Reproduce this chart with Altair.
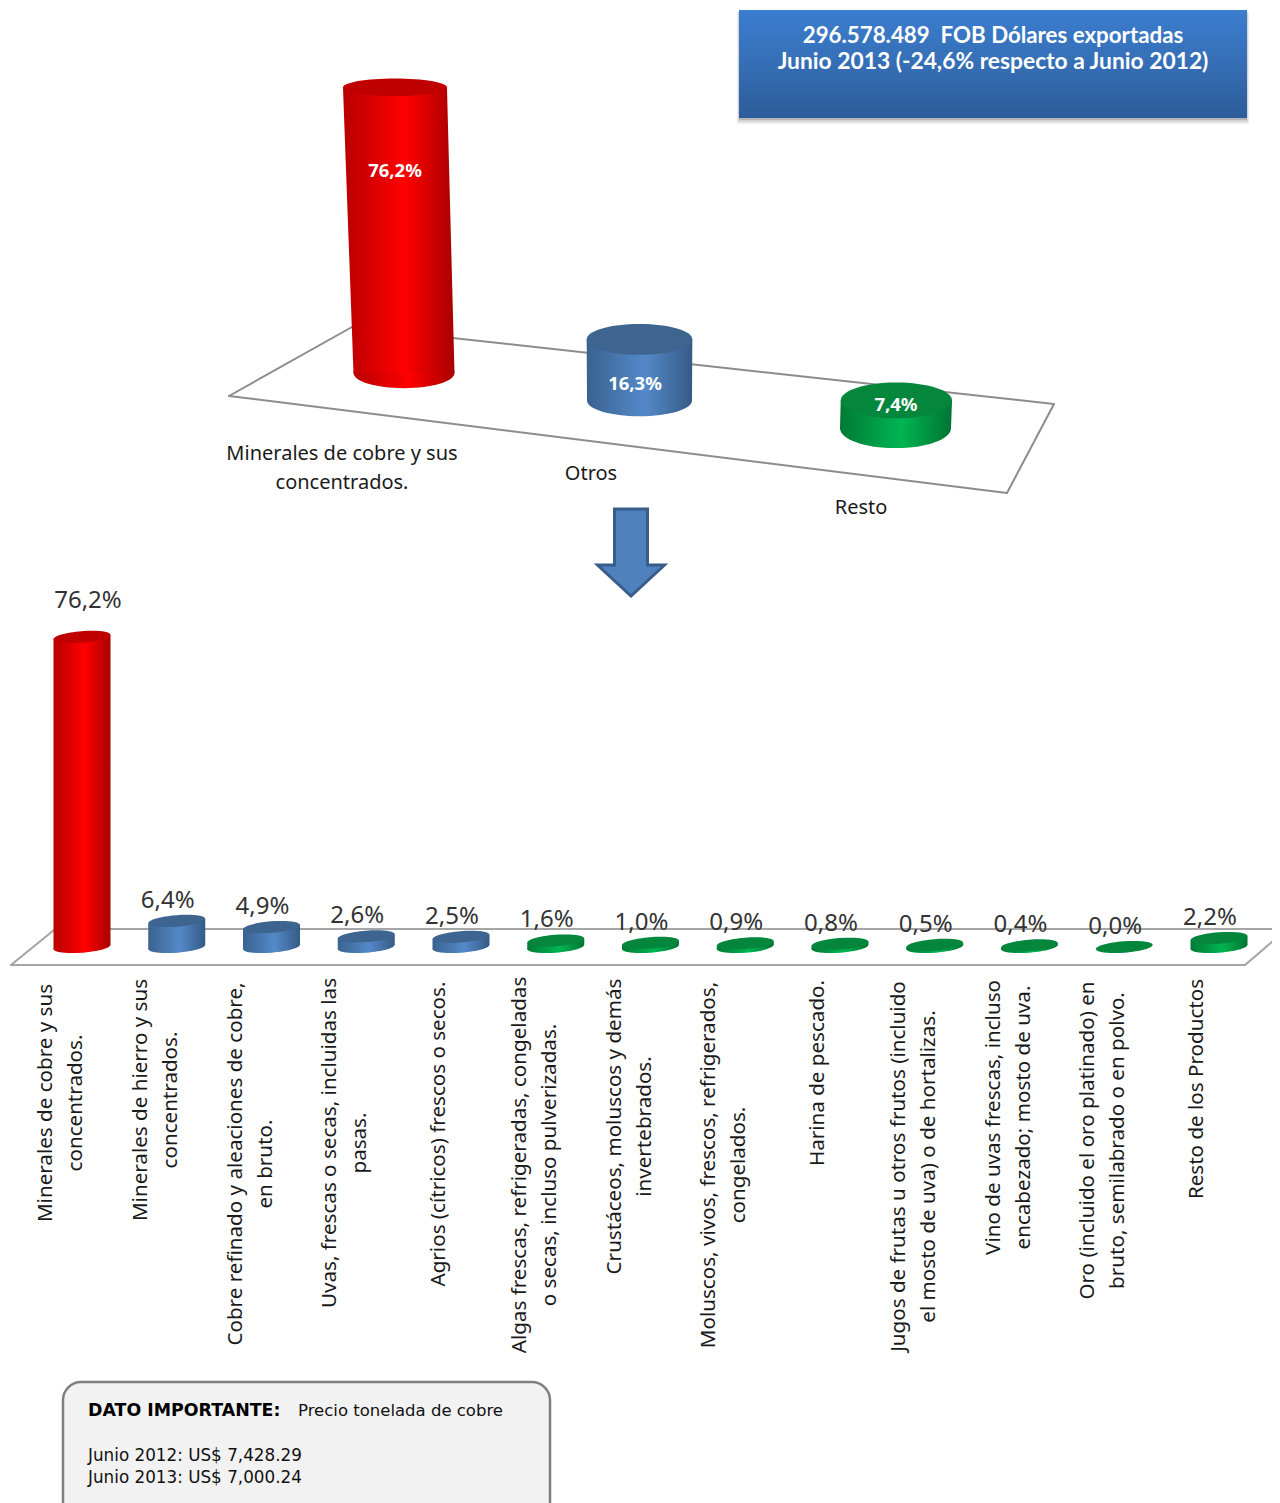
import altair as alt
import pandas as pd

# ---------- data ----------
top_categories = ["Minerales de cobre y sus\nconcentrados.", "Otros", "Resto"]
top_values = [76.2, 16.3, 7.4]
top_labels = ["76,2%", "16,3%", "7,4%"]
bottom_categories = [
    "Minerales de cobre y sus\nconcentrados.",
    "Minerales de hierro y sus\nconcentrados.",
    "Cobre refinado y aleaciones de cobre,\nen bruto.",
    "Uvas, frescas o secas, incluidas las\npasas.",
    "Agrios (cítricos) frescos o secos.",
    "Algas frescas, refrigeradas, congeladas\no secas, incluso pulverizadas.",
    "Crustáceos, moluscos y demás\ninvertebrados.",
    "Moluscos, vivos, frescos, refrigerados,\ncongelados.",
    "Harina de pescado.",
    "Jugos de frutas u otros frutos (incluido\nel mosto de uva) o de hortalizas.",
    "Vino de uvas frescas, incluso\nencabezado; mosto de uva.",
    "Oro (incluido el oro platinado) en\nbruto, semilabrado o en polvo.",
    "Resto de los Productos",
]
bottom_values = [76.2, 6.4, 4.9, 2.6, 2.5, 1.6, 1.0, 0.9, 0.8, 0.5, 0.4, 0.0, 2.2]
bottom_labels = ["76,2%", "6,4%", "4,9%", "2,6%", "2,5%", "1,6%", "1,0%", "0,9%",
                 "0,8%", "0,5%", "0,4%", "0,0%", "2,2%"]
bottom_groups = ["r", "b", "b", "b", "b", "g", "g", "g", "g", "g", "g", "g", "g"]
top_groups = ["r", "b", "g"]
banner_lines = ["296.578.489\u00a0 FOB Dólares exportadas",
                "Junio 2013 (-24,6% respecto a Junio 2012)"]
note_head = "DATO IMPORTANTE:"
note_sub = "Precio tonelada de cobre"
note_lines = ["Junio 2012: US$ 7,428.29", "Junio 2013: US$ 7,000.24"]

# ---------- styling ----------
SANS = "Noto Sans"
BANNER = "Lato"
NOTE = "DejaVu Sans"
TOP_H, W, BOT_H = 572, 1264, 923   # panel sizes
OFF = 8
LABEL_MID = [1103, 1100, 1164, 1143, 1134, 1165, 1126.5, 1165, 1073, 1166.5, 1117.5, 1140.5, 1089]


def grad(edge_l, mid, edge_r):
    return alt.Gradient(gradient="linear", x1=0, x2=1, y1=0, y2=0, stops=[
        alt.GradientStop(offset=0, color=edge_l),
        alt.GradientStop(offset=0.55, color=mid),
        alt.GradientStop(offset=1, color=edge_r)])


BODY = {"r": grad("#b80000", "#ff0000", "#a80000"),
        "b": grad("#3a628f", "#5489c9", "#365a86"),
        "g": grad("#007a35", "#00b552", "#007433")}
CAP = {"r": "#c00000", "b": "#3e6490", "g": "#04873d"}


def ellipse(r):
    k = 0.5523
    a, b = k * r, r
    return (f"M-1,0C-1,{-a:.4f} {-k},{-b:.4f} 0,{-b:.4f}C{k},{-b:.4f} 1,{-a:.4f} 1,0"
            f"C1,{a:.4f} {k},{b:.4f} 0,{b:.4f}C{-k},{b:.4f} -1,{a:.4f} -1,0Z")


one = pd.DataFrame({"a": [0]})


def rule(x0, y0, x1, y1, color, w=2, y_off=0):
    return alt.Chart(one).mark_rule(color=color, strokeWidth=w, strokeCap="round", clip=True).encode(
        x=alt.value(x0 - OFF), y=alt.value(y0 - y_off), x2=alt.value(x1 - OFF), y2=alt.value(y1 - y_off))


def text(s, x, y, y_off=0, **kw):
    return alt.Chart(pd.DataFrame({"t": [s]})).mark_text(**kw).encode(
        text="t:N", x=alt.value(x - OFF), y=alt.value(y - y_off))


# ---------- top panel ----------
TOP_PX = 3.75           # pixels per percentage point
BASE_Y = 373 - OFF
top_x = alt.Scale(domain=[0, W], range=[0, W])
top_y = alt.Scale(domain=[-(TOP_H - BASE_Y) / TOP_PX, BASE_Y / TOP_PX], range=[TOP_H, 0])
X_T = dict(scale=top_x, axis=None, title=None)
Y_T = dict(scale=top_y, axis=None, title=None)

top_layers = [
    rule(229, 396, 1007, 493, "#8c8c8c", 2, OFF),
    rule(1007, 493, 1054, 404, "#8c8c8c", 2, OFF),
    rule(1054, 404, 352, 327, "#8c8c8c", 2, OFF),
    rule(352, 327, 229, 396, "#8c8c8c", 2, OFF),
]

base_w = [101, 105, 111]
cap_ratio = [0.17, 0.29, 0.32]
base_ratio = [0.30, 0.30, 0.36]
for i, (c, v, g) in enumerate(zip(top_categories, top_values, top_groups)):
    cx = 396 + 235.5 * i + 10.25 * i * (i - 1)
    drop = 7.35 * i
    slant = 0.0316 * (1 - i) * TOP_PX
    w_top = base_w[i] + 3 * v / 76.2
    rows = pd.DataFrame({
        "y": [-drop, v - drop],
        "xl": [cx - base_w[i] / 2, cx - slant * v - w_top / 2],
        "xr": [cx + base_w[i] / 2, cx - slant * v + w_top / 2],
    })
    base = pd.DataFrame({"x": [cx], "y": [-drop]})
    head = pd.DataFrame({"x": [cx - slant * v], "y": [v - drop]})
    top_layers += [
        alt.Chart(base).mark_point(shape=ellipse(base_ratio[i]), filled=True, fill=BODY[g], opacity=1,
                                   size=base_w[i] ** 2, strokeWidth=0).encode(
            x=alt.X("x:Q", **X_T), y=alt.Y("y:Q", **Y_T)),
        alt.Chart(rows).mark_area(orient="horizontal", fill=BODY[g], opacity=1).encode(
            x=alt.X("xl:Q", **X_T), x2="xr:Q", y=alt.Y("y:Q", **Y_T)),
        alt.Chart(head).mark_point(shape=ellipse(cap_ratio[i]), filled=True, fill=CAP[g], opacity=1,
                                   size=w_top ** 2, strokeWidth=0).encode(
            x=alt.X("x:Q", **X_T), y=alt.Y("y:Q", **Y_T)),
    ]

for s, x, y in zip(top_labels, [395, 635, 896], [171, 384, 405]):
    top_layers.append(text(s, x, y, OFF, font=SANS, fontSize=18.5, fontWeight="bold", color="white"))

top_layers += [
    text(top_categories[0], 342, 454, OFF, font=SANS, fontSize=20, lineBreak="\n", lineHeight=29,
         color="#1a1a1a"),
    text(top_categories[1], 591, 474, OFF, font=SANS, fontSize=20, color="#1a1a1a"),
    text(top_categories[2], 861, 508, OFF, font=SANS, fontSize=20, color="#1a1a1a"),
]

# banner
for dx, dy, op in [(2, 6, 0.07), (1, 4, 0.10), (0, 2, 0.14)]:
    top_layers.append(alt.Chart(one).mark_rect(fill="#000000", opacity=op).encode(
        x=alt.value(739 - dx - OFF), x2=alt.value(1247 + dx - OFF),
        y=alt.value(12 - OFF), y2=alt.value(118 + dy - OFF)))
top_layers.append(alt.Chart(one).mark_rect(
    fill=alt.Gradient(gradient="linear", x1=0, x2=0, y1=0, y2=1, stops=[
        alt.GradientStop(offset=0, color="#3b7dcf"),
        alt.GradientStop(offset=0.45, color="#3670b8"),
        alt.GradientStop(offset=1, color="#2d5c9a")])).encode(
    x=alt.value(739 - OFF), x2=alt.value(1247 - OFF), y=alt.value(10 - OFF), y2=alt.value(118 - OFF)))
top_layers += [
    text(banner_lines[0], 993, 36, OFF, font=BANNER, fontSize=22.3, fontWeight="bold", color="white"),
    text(banner_lines[1], 993, 62, OFF, font=BANNER, fontSize=22.8, fontWeight="bold", color="white"),
]

# arrow (pixel path about its own centre, size 4 = unit scale)
arrow = "M-16.5,-44 L16.5,-44 L16.5,12 L33.5,12 L0,43 L-33.5,12 L-16.5,12 Z"
top_layers.append(alt.Chart(one).mark_point(shape=arrow, filled=True, fill="#4f81bd", opacity=1,
                                            stroke="#385d8a", strokeWidth=3, size=4).encode(
    x=alt.value(631 - OFF), y=alt.value(553 - OFF)))

top = alt.layer(*top_layers).properties(width=W, height=TOP_H)

# ---------- bottom panel ----------
SPLIT = TOP_H + OFF            # screen y where the bottom panel starts
BOT_PX = 4.07
FLOOR_Y = 947 - SPLIT
STEP = 94.75
bot_x = alt.Scale(domain=[-(82 - OFF) / STEP, (W - 82 + OFF) / STEP], range=[0, W])
bot_y = alt.Scale(domain=[-(BOT_H - FLOOR_Y) / BOT_PX, FLOOR_Y / BOT_PX], range=[BOT_H, 0])
X_B = dict(scale=bot_x, axis=None, title=None)
Y_B = dict(scale=bot_y, axis=None, title=None)

bot_layers = [
    rule(110, 929, 1280, 929, "#a6a6a6", 2.2, SPLIT),
    rule(11, 965, 1245, 965, "#a6a6a6", 2.2, SPLIT),
    rule(11, 965, 54, 930, "#a6a6a6", 2.2, SPLIT),
    rule(1245, 965, 1280, 935, "#a6a6a6", 2.2, SPLIT),
]

hw = 28.5 / STEP
tilt = 2.2 / BOT_PX
for i, (c, v, g, lab) in enumerate(zip(bottom_categories, bottom_values, bottom_groups, bottom_labels)):
    rows = pd.DataFrame({"x": [i - hw, i + hw], "y": [v - tilt, v + tilt], "y2": [-tilt, tilt]})
    base = pd.DataFrame({"x": [i], "y": [0.0]})
    head = pd.DataFrame({"x": [i], "y": [v], "t": [lab]})
    if v > 0:
        bot_layers += [
            alt.Chart(base).mark_point(shape=ellipse(0.2), filled=True, fill=BODY[g], opacity=1, angle=355.5,
                                       size=57 ** 2, strokeWidth=0).encode(
                x=alt.X("x:Q", **X_B), y=alt.Y("y:Q", **Y_B)),
            alt.Chart(rows).mark_area(fill=BODY[g], opacity=1).encode(
                x=alt.X("x:Q", **X_B), y=alt.Y("y:Q", **Y_B), y2="y2:Q"),
        ]
    bot_layers += [
        alt.Chart(head).mark_point(shape=ellipse(0.2), filled=True, fill=CAP[g], opacity=1, angle=355.5,
                                   size=57 ** 2, strokeWidth=0).encode(
            x=alt.X("x:Q", **X_B), y=alt.Y("y:Q", **Y_B)),
        alt.Chart(head).mark_text(font=SANS, fontSize=24, color="#333333",
                                  dy=-36 if v > 50 else -20, dx=6 if v > 50 else -9).encode(
            text="t:N", x=alt.X("x:Q", **X_B), y=alt.Y("y:Q", **Y_B)),
    ]
    parts = c.split("\n")
    bot_layers.append(
        alt.Chart(pd.DataFrame({"x": [i], "t": [c]})).mark_text(
            font=SANS, fontSize=20.6, angle=270, lineBreak="\n", lineHeight=30, color="#1a1a1a",
            align="center", baseline="middle").encode(
            text="t:N",
            x=alt.X("x:Q", **X_B),
            xOffset=alt.value(-36 if len(parts) > 1 else -22),
            y=alt.value(LABEL_MID[i] - SPLIT)))

# note box
bot_layers.append(alt.Chart(one).mark_rect(
    fill="#f2f2f2", stroke="#7f7f7f", strokeWidth=2.5, cornerRadius=18, clip=True).encode(
    x=alt.value(63 - OFF), x2=alt.value(550 - OFF), y=alt.value(1382 - SPLIT), y2=alt.value(1530 - SPLIT)))
bot_layers += [
    text(note_head, 88, 1411, SPLIT, font=NOTE, fontSize=17.4, fontWeight="bold", align="left", color="black"),
    text(note_sub, 298, 1411, SPLIT, font=NOTE, fontSize=16.5, align="left", color="#111111"),
    text(note_lines[0], 88, 1456, SPLIT, font=NOTE, fontSize=16.8, align="left", color="#111111"),
    text(note_lines[1], 88, 1478, SPLIT, font=NOTE, fontSize=16.8, align="left", color="#111111"),
]
bottom = alt.layer(*bot_layers).properties(width=W, height=BOT_H)

chart = alt.vconcat(top, bottom, spacing=0, bounds="flush").properties(
    padding=0, background="white"
).configure_view(stroke=None).configure_concat(spacing=0)

chart.save("out.html", embed_options={"renderer": "svg", "actions": False})
